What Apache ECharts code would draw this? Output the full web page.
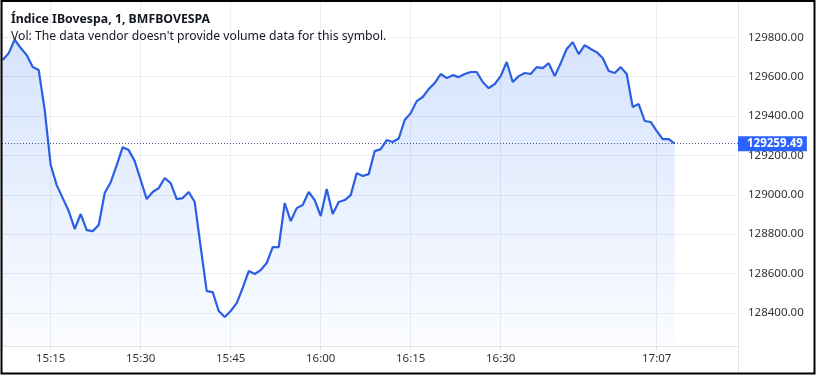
<!DOCTYPE html>
<html>
<head>
<meta charset="utf-8">
<script src="https://cdn.jsdelivr.net/npm/echarts@6/dist/echarts.min.js"></script>
<style>
html,body{margin:0;padding:0;background:#fff;}
#chart{width:818px;height:379px;}
</style>
</head>
<body>
<div id="chart"></div>
<script>
// Minute bars (15:07 ... 17:10), with the auction gap compressed as on the source chart
const times = [];
(function () {
  for (let i = 0; i <= 83; i++) { const m = 15 * 60 + 7 + i; times.push(Math.floor(m / 60) + ':' + String(m % 60).padStart(2, '0')); }
  for (let i = 84; i <= 108; i++) { const m = 16 * 60 + 31 + (i - 84); times.push(Math.floor(m / 60) + ':' + String(m % 60).padStart(2, '0')); }
  for (let i = 109; i <= 112; i++) { const m = 17 * 60 + 7 + (i - 109); times.push(Math.floor(m / 60) + ':' + String(m % 60).padStart(2, '0')); }
})();

const prices = [
  129685, 129720, 129789, 129746, 129710, 129649, 129634, 129430, 129151, 129049,
  128983, 128917, 128826, 128902, 128820, 128815, 128846, 129009, 129064, 129151,
  129242, 129227, 129171, 129075, 128978, 129014, 129034, 129085, 129059, 128978,
  128983, 129014, 128963, 128734, 128510, 128505, 128409, 128378, 128409, 128449,
  128526, 128612, 128597, 128617, 128653, 128734, 128734, 128958, 128866, 128932,
  128948, 129014, 128973, 128892, 129029, 128902, 128963, 128973, 128998, 129110,
  129095, 129105, 129222, 129232, 129278, 129268, 129286, 129380, 129415, 129476,
  129497, 129537, 129568, 129614, 129593, 129608, 129598, 129614, 129624, 129624,
  129573, 129542, 129563, 129603, 129675, 129573, 129603, 129619, 129614, 129649,
  129644, 129669, 129603, 129669, 129741, 129776, 129715, 129761, 129741, 129725,
  129695, 129629, 129619, 129649, 129614, 129446, 129461, 129375, 129370, 129324,
  129283, 129283, 129259.49
];

const lastPrice = 129259.49;
const timeLabelIdx = [8, 23, 38, 53, 68, 83, 109];
const priceTicks = [128400, 128600, 128800, 129000, 129200, 129400, 129600, 129800];

const seriesData = prices.map((v, i) => [i, v]);
const FONT = '"Noto Sans", "Open Sans", sans-serif';
const gridLine = '#eceef2';
const axisColor = '#dfe2e8';

const chart = echarts.init(document.getElementById('chart'), null, { renderer: 'canvas' });
chart.setOption({
  animation: false,
  backgroundColor: '#ffffff',
  grid: { left: 2, right: 80, top: 2, bottom: 33, containLabel: false },
  xAxis: {
    type: 'value',
    min: -0.12,
    max: 122.55,
    axisLine: { show: true, lineStyle: { color: axisColor, width: 1 } },
    axisTick: { show: true, customValues: timeLabelIdx, length: 4, lineStyle: { color: axisColor } },
    splitLine: { show: true, lineStyle: { color: gridLine, width: 1 } },
    axisLabel: {
      customValues: timeLabelIdx,
      formatter: v => times[Math.round(v)],
      color: '#333', fontSize: 11.5, fontFamily: FONT, margin: 7
    }
  },
  yAxis: {
    type: 'value',
    position: 'right',
    min: 128231,
    max: 129980,
    axisLine: { show: true, lineStyle: { color: axisColor, width: 1 } },
    axisTick: { show: true, customValues: priceTicks, length: 4, lineStyle: { color: axisColor } },
    splitLine: { show: true, lineStyle: { color: gridLine, width: 1 } },
    axisLabel: {
      customValues: priceTicks,
      formatter: v => v.toFixed(2),
      color: '#333', fontSize: 11.5, fontFamily: FONT, margin: 10
    }
  },
  series: [{
    type: 'line',
    data: seriesData,
    showSymbol: false,
    smooth: false,
    lineStyle: { color: '#2b5fe3', width: 2.2 },
    areaStyle: {
      origin: 'start',
      color: new echarts.graphic.LinearGradient(0, 0, 0, 1, [
        { offset: 0, color: 'rgba(41,110,245,0.27)' },
        { offset: 1, color: 'rgba(41,110,245,0.03)' }
      ])
    },
    markLine: {
      silent: true,
      symbol: ['none', 'none'],
      lineStyle: { type: [1, 2], color: '#3b5a8a', width: 1 },
      data: [{ yAxis: lastPrice }],
      label: {
        show: true,
        position: 'end',
        distance: 0,
        formatter: () => lastPrice.toFixed(2),
        color: '#ffffff',
        backgroundColor: '#2962ff',
        fontSize: 11.5,
        fontWeight: 'bold',
        fontFamily: FONT,
        padding: [2, 4, 1, 9],
        borderRadius: 0
      }
    }
  }],
  graphic: [
    { type: 'line', shape: { x1: 738.5, y1: 0, x2: 738.5, y2: 374 }, style: { stroke: axisColor, lineWidth: 1 }, z: 5 },
    { type: 'text', left: 11, top: 13, style: { text: 'Índice IBovespa, 1, BMFBOVESPA', font: 'bold 12.3px ' + FONT, fill: '#131722' }, z: 10 },
    { type: 'text', left: 11, top: 31, style: { text: "Vol: The data vendor doesn't provide volume data for this symbol.", font: '12.2px ' + FONT, fill: '#131722' }, z: 10 },
    { type: 'rect', shape: { x: 1.5, y: 1, width: 813, height: 372.5 }, style: { fill: 'none', stroke: '#000', lineWidth: 2 }, z: 20 }
  ]
});
</script>
</body>
</html>
